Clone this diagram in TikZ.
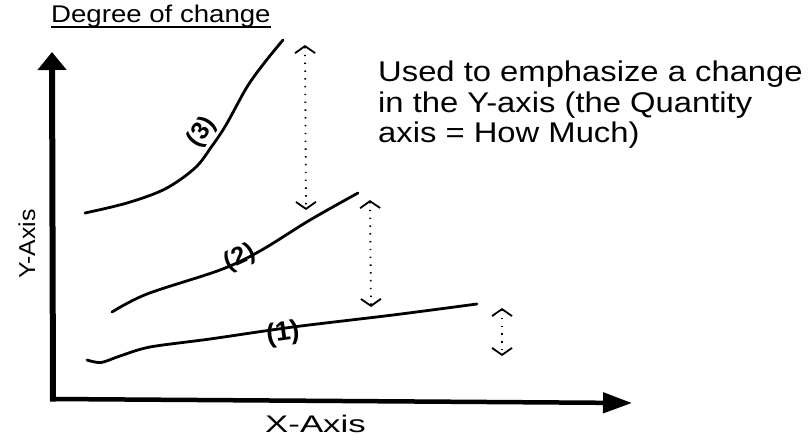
\documentclass[tikz,border=0pt]{standalone}
\usepackage{fontspec}
\setmainfont{Liberation Sans}
\usetikzlibrary{arrows.meta,calc}
\tikzset{
  curve/.style={line width=2.8pt, line cap=round, line join=round},
  dotline/.style={line width=1.8pt, dash pattern=on 1.4pt off 6.4pt,
    {Straight Barb[length=7pt,width=20pt]}-{Straight Barb[length=7pt,width=20pt]}},
  lbl/.style={inner sep=0pt, font=\fontsize{25}{28}\selectfont\bfseries},
  body/.style={inner sep=0pt, anchor=base west, font=\fontsize{28.5}{31}\selectfont},
}
\begin{document}
\begin{tikzpicture}[x=1pt,y=-1pt]
\useasboundingbox[fill=white] (0,0) rectangle (810,438);
% title
\node[inner sep=0pt, anchor=base west, font=\fontsize{23}{26}\selectfont] (title) at (51,23) {\scalebox{1.2}[1.05]{Degree of change}};
\coordinate (ul1) at ($(title.base west)+(0,4.5)$);
\coordinate (ul2) at ($(title.base east)+(0,4.5)$);
\draw[line width=2pt] (ul1) -- (ul2);
% description
\node[body] (t1) at (378,82) {\scalebox{1.15}[1]{Used to emphasize a change}};
\node[body] (t2) at (378,113) {\scalebox{1.15}[1]{in the Y-axis (the Quantity}};
\node[body] (t3) at (378,143) {\scalebox{1.15}[1]{axis = How Much)}};
% axes
\coordinate (O) at (53,399);
\coordinate (Oy) at (53,401.5);
\coordinate (ytip) at (52,52);
\coordinate (xtip) at (632,403);
\draw[line width=6pt, -{Triangle[length=18pt,width=28pt]}] (Oy) -- (ytip);
\draw[line width=4.5pt, -{Triangle[length=29pt,width=20pt]}] (O) -- (xtip);
\node[inner sep=0pt, anchor=base west, font=\fontsize{24}{28}\selectfont] (xl) at (265,432) {\scalebox{1.45}[1]{X-Axis}};
\node[inner sep=0pt, anchor=base, rotate=90, font=\fontsize{23}{26}\selectfont] (yl) at (35,244) {\scalebox{1.08}[1]{Y-Axis}};
% curves
\draw[curve] plot[smooth, tension=0.55] coordinates {(85,213) (127,203) (165,189) (195,168) (212,146) (226,125) (247,87) (265,62) (283,40)};
\draw[curve] plot[smooth, tension=0.55] coordinates {(112,312) (147,294) (220,270) (260,251) (310,220) (358,193)};
\draw[curve] plot[smooth, tension=0.5] coordinates {(87,360) (101,362.5) (120,356) (150,347) (210,339) (293,327) (393,315) (477,304)};
% curve labels
\node[lbl, rotate=55] (c3) at (202,132) {(3)};
\node[lbl, rotate=25] (c2) at (240,258) {(2)};
\node[lbl, rotate=8, font=\fontsize{27}{30}\selectfont\bfseries] (c1) at (283,334) {(1)};
% dotted double arrows
\coordinate (a1t) at (305,45);
\coordinate (a1b) at (306,210);
\coordinate (a2t) at (370,200);
\coordinate (a2b) at (371,307);
\coordinate (a3t) at (502,308);
\coordinate (a3b) at (502,356);
\draw[dotline] (a1t) -- (a1b);
\draw[dotline] (a2t) -- (a2b);
\draw[dotline] (a3t) -- (a3b);
\end{tikzpicture}
\end{document}
